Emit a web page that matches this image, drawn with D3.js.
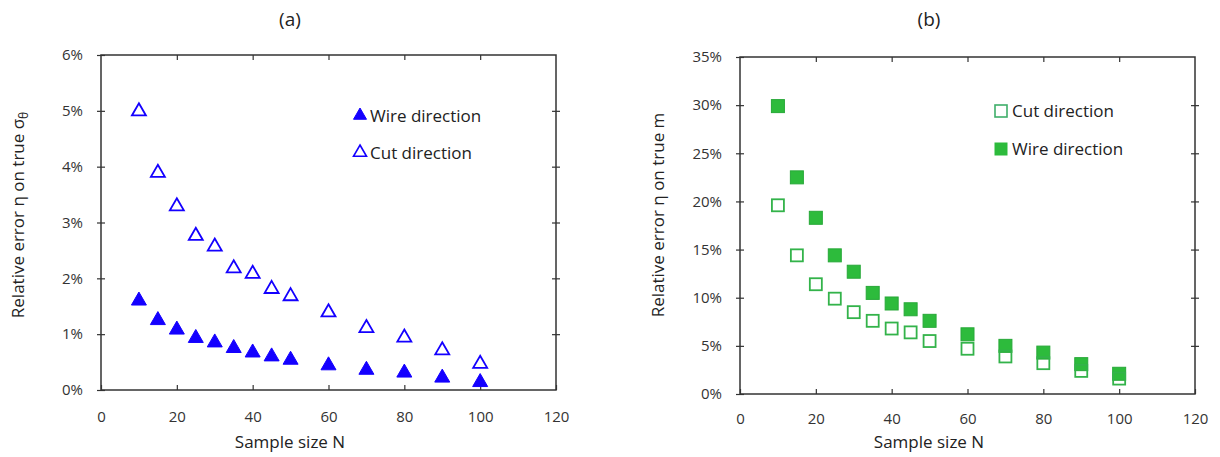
<!DOCTYPE html>
<html><head><meta charset="utf-8">
<script src="https://cdnjs.cloudflare.com/ajax/libs/d3/7.8.5/d3.min.js"></script>
<style>body{margin:0;background:#fff}svg{display:block}text{font-family:"Open Sans",sans-serif}</style>
</head><body>
<svg id="c" width="1220" height="457"></svg>
<script>
const sizes = [10,15,20,25,30,35,40,45,50,60,70,80,90,100];
const aWire = [1.61,1.26,1.09,0.94,0.86,0.76,0.68,0.61,0.55,0.45,0.37,0.32,0.23,0.15];
const aCut  = [5.00,3.90,3.30,2.77,2.58,2.19,2.09,1.82,1.69,1.40,1.12,0.95,0.72,0.48];
const bWire = [29.9,22.5,18.3,14.4,12.7,10.5,9.4,8.8,7.6,6.2,5.0,4.3,3.1,2.1];
const bCut  = [19.6,14.4,11.4,9.9,8.5,7.6,6.8,6.4,5.5,4.7,3.9,3.2,2.4,1.6];
const xTicks = [0,20,40,60,80,100,120];
const aYTicks = [0,1,2,3,4,5,6];
const bYTicks = [0,5,10,15,20,25,30,35];

const svg = d3.select("#c");
const axisCol = "#333";
const blue = "#1400ff", green = "#2dbb3c";

function panel(o){
  const g = svg.append("g");
  const x = d3.scaleLinear().domain([0,120]).range([o.left,o.right]);
  const y = d3.scaleLinear().domain([0,o.ymax]).range([o.bottom,o.top]);
  g.append("rect").attr("x",o.left).attr("y",o.top).attr("width",o.right-o.left).attr("height",o.bottom-o.top)
    .attr("fill","none").attr("stroke",axisCol).attr("stroke-width",1.5);
  const xa = g.append("g").attr("transform",`translate(0,${o.bottom})`)
    .call(d3.axisBottom(x).tickValues(xTicks).tickSize(-5).tickPadding(o.xpad).tickFormat(d3.format("d")));
  xa.select(".domain").remove();
  xa.selectAll("line").attr("stroke",axisCol).attr("stroke-width",1.2);
  xa.selectAll("text").attr("font-size",15).attr("fill","#333").attr("font-family","Open Sans");
  const xt = g.append("g").attr("transform",`translate(0,${o.top})`)
    .call(d3.axisTop(x).tickValues(xTicks.slice(1,-1)).tickSize(-5).tickFormat(""));
  xt.select(".domain").remove();
  xt.selectAll("line").attr("stroke",axisCol).attr("stroke-width",1.2);
  const ya = g.append("g").attr("transform",`translate(${o.left},0)`)
    .call(d3.axisLeft(y).tickValues(o.yTicks).tickSize(4).tickPadding(14).tickFormat(d=>d+"%"));
  ya.select(".domain").remove();
  ya.selectAll("line").attr("stroke",axisCol).attr("stroke-width",1.2).attr("x2",4).attr("x1",-4);
  ya.selectAll("text").attr("font-size",15).attr("fill","#333").attr("font-family","Open Sans");
  const yr = g.append("g").attr("transform",`translate(${o.right},0)`)
    .call(d3.axisRight(y).tickValues(o.yTicks.slice(1,-1)).tickSize(4).tickFormat(""));
  yr.select(".domain").remove();
  yr.selectAll("line").attr("stroke",axisCol).attr("stroke-width",1.2).attr("x1",-4).attr("x2",4);
  g.append("text").attr("x",o.cx).attr("y",26).attr("text-anchor","middle")
    .attr("font-size",19).attr("fill","#222").text(o.title);
  g.append("text").attr("x",o.cx).attr("y",448).attr("text-anchor","middle")
    .attr("font-size",17).attr("fill","#222").text("Sample size N");
  const yl = g.append("text").attr("transform",`translate(${o.ylx},${o.ylc}) rotate(-90)`)
    .attr("text-anchor","middle").attr("font-size",17).attr("fill","#222");
  yl.append("tspan").text(o.ylabel);
  if(o.ysub) yl.append("tspan").attr("font-size",12).attr("dy",4).text(o.ysub);
  return {g,x,y};
}

function tri(cx,cy,s){const h=s*0.866;return `M${cx},${cy-h*0.62}L${cx+s/2},${cy+h*0.38}L${cx-s/2},${cy+h*0.38}Z`;}

const A = panel({left:101,right:556,top:55,bottom:390,ymax:6,yTicks:aYTicks,title:"(a)",cx:290,xpad:21,
  ylabel:"Relative error η on true σ",ysub:"θ",ylx:24,ylc:215});
A.g.append("g").selectAll("path").data(sizes.map((s,i)=>[s,aCut[i]])).join("path")
  .attr("d",d=>tri(A.x(d[0]),A.y(d[1]),14)).attr("fill","none").attr("stroke",blue).attr("stroke-width",1.8);
A.g.append("g").selectAll("path").data(sizes.map((s,i)=>[s,aWire[i]])).join("path")
  .attr("d",d=>tri(A.x(d[0]),A.y(d[1]),15)).attr("fill",blue).attr("stroke",blue).attr("stroke-width",1);
const la=[{t:"Wire direction",f:true,y:115},{t:"Cut direction",f:false,y:152}];
la.forEach(l=>{
  A.g.append("path").attr("d",tri(360,l.y,13)).attr("fill",l.f?blue:"none").attr("stroke",blue).attr("stroke-width",l.f?1:1.6);
  A.g.append("text").attr("x",370).attr("y",l.y+7).attr("font-size",17).attr("fill","#222").text(l.t);
});

const B = panel({left:740,right:1195,top:57,bottom:394,ymax:35,yTicks:bYTicks,title:"(b)",cx:929,xpad:19,
  ylabel:"Relative error η on true m",ylx:664,ylc:215});
const sq=13;
B.g.append("g").selectAll("rect").data(sizes.map((s,i)=>[s,bWire[i]])).join("rect")
  .attr("x",d=>B.x(d[0])-sq/2).attr("y",d=>B.y(d[1])-sq/2).attr("width",sq).attr("height",sq)
  .attr("fill",green).attr("stroke","#27a838").attr("stroke-width",1);
B.g.append("g").selectAll("rect").data(sizes.map((s,i)=>[s,bCut[i]])).join("rect")
  .attr("x",d=>B.x(d[0])-sq/2+0.5).attr("y",d=>B.y(d[1])-sq/2+0.5).attr("width",sq-1).attr("height",sq-1)
  .attr("fill","none").attr("stroke","#33b34a").attr("stroke-width",1.8);
const lb=[{t:"Cut direction",f:false,y:111},{t:"Wire direction",f:true,y:149}];
lb.forEach(l=>{
  B.g.append("rect").attr("x",995).attr("y",l.y-6).attr("width",12).attr("height",12)
    .attr("fill",l.f?green:"none").attr("stroke",l.f?green:"#3fae6a").attr("stroke-width",l.f?1:1.6);
  B.g.append("text").attr("x",1012).attr("y",l.y+6).attr("font-size",17).attr("fill","#222").text(l.t);
});
</script>
</body></html>
